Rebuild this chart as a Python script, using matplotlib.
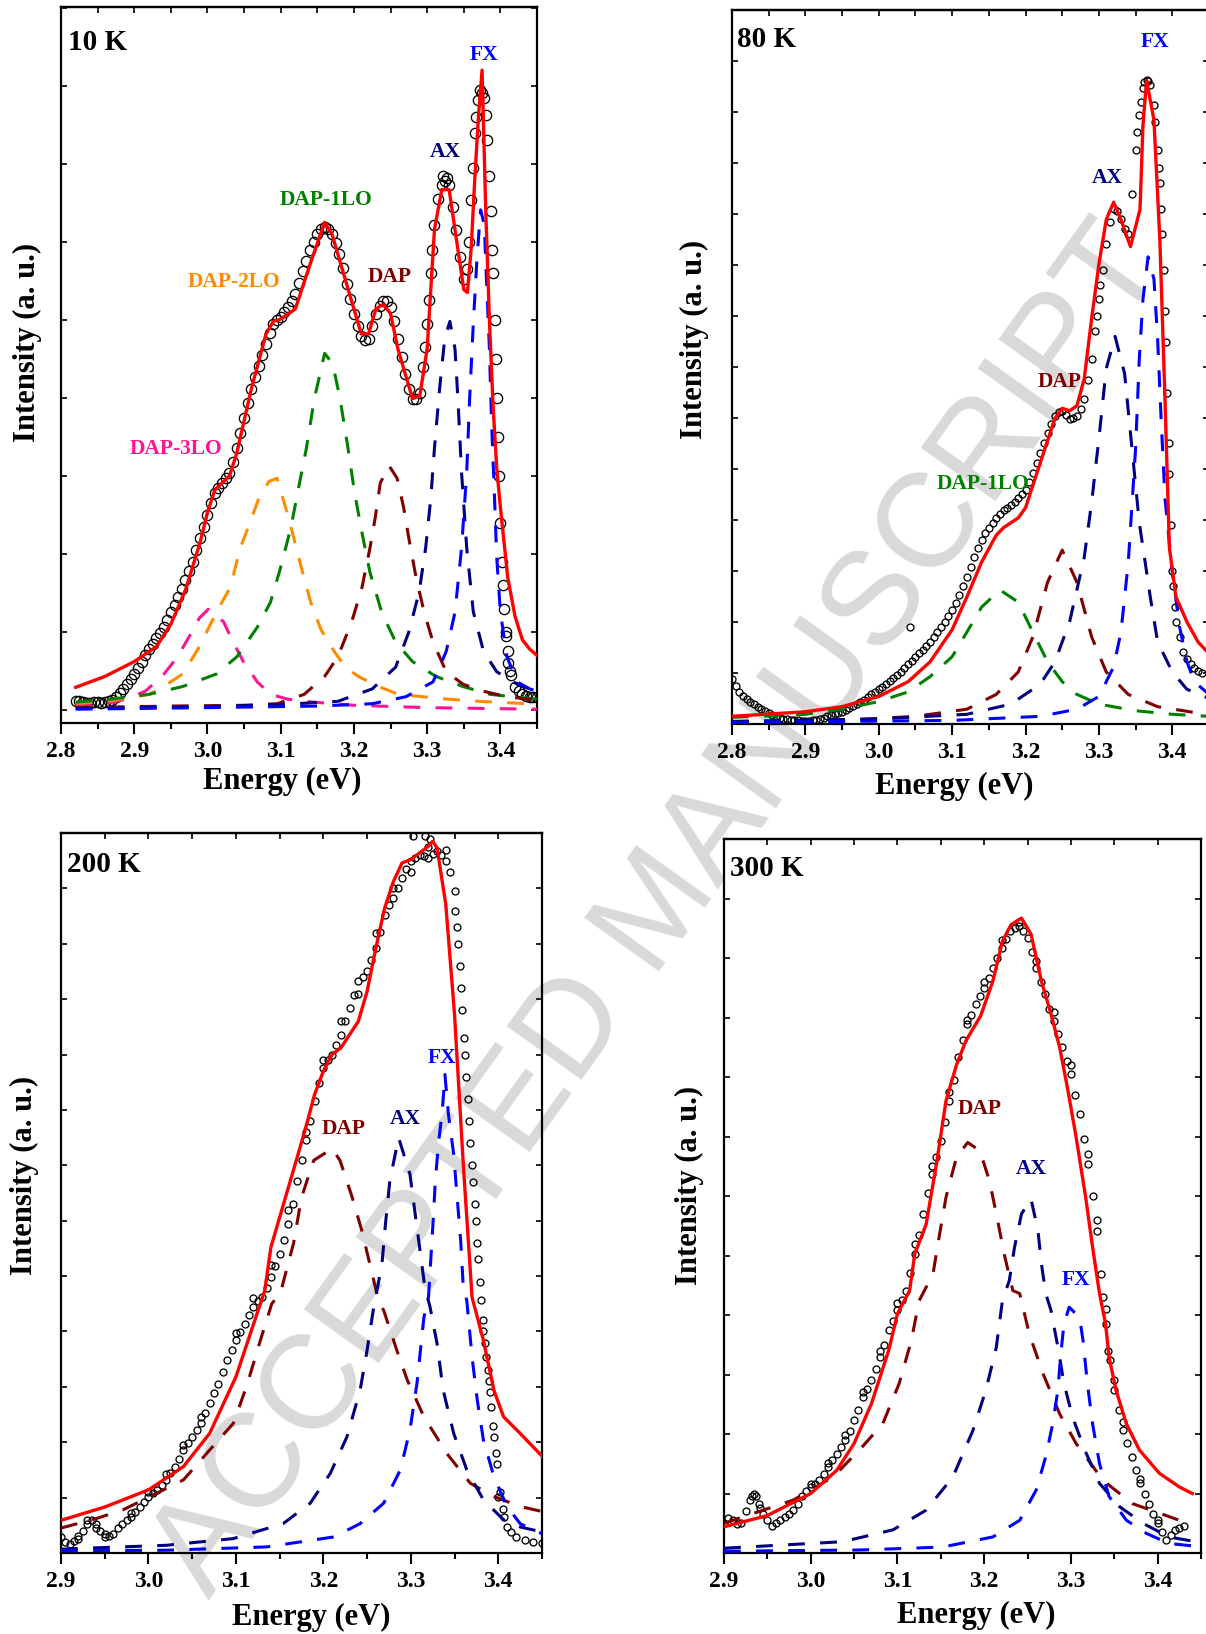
import numpy as np
import matplotlib
matplotlib.use('Agg')
import matplotlib.pyplot as plt
from matplotlib.ticker import MultipleLocator, FormatStrFormatter

plt.rcParams['font.family'] = ['Liberation Serif', 'DejaVu Serif']
plt.rcParams['font.weight'] = 'bold'

PINK = '#FF1493'
ORANGE = '#FF8C00'
GREEN = '#008000'
DRED = '#800000'
NAVY = '#000080'
BLUE = '#0000FF'
RED = '#FF0000'

# ---------------- 10 K ----------------
e10 = [2.820, 2.825, 2.830, 2.835, 2.840, 2.845, 2.850, 2.855, 2.860, 2.865, 2.870, 2.875,
       2.880, 2.885, 2.890, 2.895, 2.900, 2.905, 2.910, 2.915, 2.920, 2.925, 2.930, 2.935,
       2.940, 2.945, 2.950, 2.955, 2.960, 2.965, 2.970, 2.975, 2.980, 2.985, 2.990, 2.995,
       3.000, 3.005, 3.010, 3.015, 3.020, 3.025, 3.030, 3.035, 3.040, 3.045, 3.050, 3.055,
       3.060, 3.065, 3.070, 3.075, 3.080, 3.085, 3.090, 3.095, 3.100, 3.105, 3.110, 3.115,
       3.120, 3.125, 3.130, 3.135, 3.140, 3.145, 3.150, 3.155, 3.160, 3.165, 3.170, 3.175,
       3.180, 3.185, 3.190, 3.195, 3.200, 3.205, 3.210, 3.215, 3.220, 3.225, 3.230, 3.235,
       3.240, 3.245, 3.250, 3.255, 3.260, 3.265, 3.270, 3.275, 3.280, 3.285, 3.290, 3.295,
       3.300, 3.305, 3.310, 3.315, 3.320, 3.325, 3.330, 3.335, 3.340, 3.345, 3.350, 3.355,
       3.360, 3.365, 3.370, 3.375, 3.380, 3.385, 3.390, 3.395, 3.400, 3.405, 3.410, 3.415,
       3.420, 3.425, 3.430, 3.435, 3.440, 3.445, 3.450,
       3.297, 3.302, 3.307, 3.357, 3.362, 3.367, 3.382, 3.387, 3.389, 3.392, 3.394, 3.397,
       3.398, 3.402, 3.403, 3.407, 3.408, 3.411, 3.413, 3.372, 3.377, 3.322, 3.327]
i10 = [0.12, 0.11, 0.10, 0.09, 0.09, 0.10, 0.10, 0.09, 0.10, 0.11, 0.13, 0.17,
       0.22, 0.27, 0.33, 0.40, 0.46, 0.54, 0.62, 0.70, 0.78, 0.85, 0.92, 0.99,
       1.06, 1.15, 1.25, 1.35, 1.45, 1.55, 1.66, 1.78, 1.90, 2.05, 2.20, 2.35,
       2.50, 2.65, 2.78, 2.85, 2.91, 2.97, 3.04, 3.18, 3.36, 3.55, 3.74, 3.93,
       4.12, 4.27, 4.41, 4.55, 4.69, 4.83, 4.95, 5.00, 5.04, 5.10, 5.17, 5.24,
       5.33, 5.47, 5.62, 5.76, 5.90, 6.00, 6.10, 6.16, 6.19, 6.16, 6.10, 5.98,
       5.84, 5.66, 5.46, 5.27, 5.08, 4.92, 4.79, 4.74, 4.76, 4.92, 5.08, 5.18,
       5.24, 5.24, 5.17, 4.98, 4.76, 4.53, 4.31, 4.12, 3.99, 3.98, 4.06, 4.40,
       4.95, 5.60, 6.22, 6.55, 6.73, 6.78, 6.73, 6.45, 6.15, 5.80, 5.52, 5.65,
       6.54, 7.40, 7.82, 7.91, 7.62, 6.85, 5.60, 4.00, 2.40, 1.30, 0.75, 0.45,
       0.30, 0.24, 0.20, 0.18, 0.17, 0.16, 0.16,
       4.65, 5.25, 5.90, 6.00, 6.95, 7.60, 7.30, 6.40, 5.90, 5.00, 4.50, 3.50,
       3.00, 1.90, 1.60, 1.00, 0.95, 0.60, 0.50, 7.95, 7.85, 6.85, 6.82]

e10_fit = [2.82, 2.86, 2.90, 2.93, 2.95, 2.97, 2.99, 3.00, 3.01, 3.02, 3.03, 3.04, 3.06, 3.08,
           3.09, 3.10, 3.12, 3.14, 3.16, 3.17, 3.19, 3.21, 3.22, 3.23, 3.24, 3.25, 3.26, 3.28,
           3.29, 3.30, 3.31, 3.32, 3.33, 3.34, 3.35, 3.355, 3.36, 3.365, 3.37, 3.375, 3.38,
           3.385, 3.39, 3.395, 3.40, 3.41, 3.42, 3.43, 3.44, 3.45]
i10_fit = [0.29, 0.43, 0.62, 0.81, 1.10, 1.54, 2.15, 2.53, 2.82, 2.91, 3.00, 3.29, 4.12, 4.82,
           4.98, 5.01, 5.14, 5.71, 6.25, 6.10, 5.46, 4.82, 4.82, 5.14, 5.20, 5.08, 4.63, 3.99,
           4.03, 4.63, 6.16, 6.67, 6.67, 6.03, 5.39, 5.35, 5.90, 6.80, 7.60, 8.20, 6.40,
           5.00, 3.90, 3.10, 2.60, 1.70, 1.20, 0.90, 0.78, 0.70]

e10_3lo = [2.82, 2.86, 2.89, 2.915, 2.938, 2.959, 2.975, 2.989, 3.001, 3.022, 3.035, 3.049,
           3.068, 3.086, 3.109, 3.132, 3.20, 3.30, 3.45]
i10_3lo = [0.05, 0.08, 0.14, 0.24, 0.43, 0.68, 0.94, 1.18, 1.29, 1.13, 0.87, 0.62,
           0.36, 0.20, 0.14, 0.11, 0.06, 0.03, 0.01]

e10_2lo = [2.82, 2.87, 2.92, 2.94, 2.966, 2.989, 3.012, 3.031, 3.045, 3.058, 3.07, 3.084,
           3.095, 3.109, 3.118, 3.13, 3.141, 3.155, 3.171, 3.188, 3.206, 3.234, 3.261, 3.294,
           3.326, 3.372, 3.437, 3.45]
i10_2lo = [0.08, 0.12, 0.20, 0.30, 0.46, 0.81, 1.25, 1.57, 2.08, 2.40, 2.71, 2.93,
           2.97, 2.52, 2.20, 1.76, 1.38, 1.03, 0.78, 0.55, 0.43, 0.30, 0.20, 0.17,
           0.14, 0.11, 0.08, 0.08]

e10_1lo = [2.82, 2.87, 2.92, 2.966, 3.012, 3.04, 3.068, 3.086, 3.10, 3.114, 3.123, 3.135,
           3.146, 3.16, 3.171, 3.181, 3.192, 3.201, 3.211, 3.222, 3.238, 3.257, 3.28, 3.312,
           3.349, 3.386, 3.437, 3.45]
i10_1lo = [0.10, 0.14, 0.20, 0.30, 0.46, 0.68, 1.06, 1.38, 1.83, 2.34, 2.78, 3.35,
           3.99, 4.57, 4.44, 3.99, 3.35, 2.78, 2.27, 1.76, 1.25, 0.87, 0.62, 0.43,
           0.30, 0.20, 0.15, 0.14]

e10_dap = [2.82, 2.95, 3.05, 3.095, 3.132, 3.16, 3.178, 3.197, 3.211, 3.222, 3.229, 3.236,
           3.248, 3.259, 3.268, 3.275, 3.285, 3.296, 3.308, 3.326, 3.349, 3.377, 3.409, 3.437, 3.45]
i10_dap = [0.03, 0.05, 0.06, 0.08, 0.20, 0.43, 0.68, 1.13, 1.57, 2.08, 2.46, 2.91,
           3.13, 2.97, 2.59, 2.20, 1.69, 1.25, 0.87, 0.49, 0.33, 0.24, 0.17, 0.14, 0.13]

e10_ax = [2.82, 3.00, 3.10, 3.178, 3.225, 3.257, 3.275, 3.289, 3.298, 3.305, 3.31, 3.317,
          3.324, 3.331, 3.338, 3.342, 3.347, 3.354, 3.363, 3.377, 3.395, 3.423, 3.44, 3.45]
i10_ax = [0.02, 0.04, 0.07, 0.11, 0.27, 0.55, 1.00, 1.51, 2.08, 2.72, 3.36, 4.12,
          4.76, 4.98, 4.63, 3.99, 3.04, 2.08, 1.26, 0.75, 0.49, 0.33, 0.27, 0.25]

e10_fx = [2.82, 3.00, 3.15, 3.225, 3.271, 3.308, 3.326, 3.338, 3.347, 3.354, 3.358, 3.363,
          3.368, 3.373, 3.378, 3.381, 3.385, 3.388, 3.392, 3.395, 3.40, 3.409, 3.423, 3.44, 3.45]
i10_fx = [0.01, 0.03, 0.05, 0.08, 0.17, 0.36, 0.75, 1.25, 2.08, 3.04, 3.99, 4.95,
          5.78, 6.41, 6.22, 5.52, 4.63, 3.68, 2.72, 1.96, 1.25, 0.68, 0.36, 0.27, 0.24]

# ---------------- 80 K ----------------
e80 = [2.800, 2.805, 2.810, 2.815, 2.820, 2.825, 2.830, 2.835, 2.840, 2.845, 2.850, 2.855,
       2.860, 2.865, 2.870, 2.875, 2.880, 2.885, 2.890, 2.895, 2.900, 2.905, 2.910, 2.915,
       2.920, 2.925, 2.930, 2.935, 2.940, 2.945, 2.950, 2.955, 2.960, 2.965, 2.970, 2.975,
       2.980, 2.985, 2.990, 2.995, 3.000, 3.005, 3.010, 3.015, 3.020, 3.025, 3.030, 3.035,
       3.040, 3.045, 3.050, 3.055, 3.060, 3.065, 3.070, 3.075, 3.080, 3.085, 3.090, 3.095,
       3.100, 3.105, 3.110, 3.115, 3.120, 3.125, 3.130, 3.135, 3.140, 3.145, 3.150, 3.155,
       3.160, 3.165, 3.170, 3.175, 3.180, 3.185, 3.190, 3.195, 3.200, 3.205, 3.210, 3.215,
       3.220, 3.225, 3.230, 3.235, 3.240, 3.245, 3.250, 3.255, 3.260, 3.265, 3.270, 3.275,
       3.280, 3.285, 3.290, 3.295, 3.300, 3.305, 3.310, 3.315, 3.320, 3.325, 3.330, 3.335,
       3.340, 3.345, 3.350, 3.355, 3.360, 3.365, 3.370, 3.375, 3.380, 3.385, 3.390, 3.395,
       3.400, 3.405, 3.410, 3.415, 3.420, 3.425, 3.430, 3.435, 3.440,
       3.042, 3.383, 3.386, 3.388, 3.391, 3.393, 3.396, 3.398, 3.401, 3.403, 3.297, 3.302,
       3.352, 3.357, 3.377, 3.382, 3.362, 3.367]
i80 = [0.88, 0.75, 0.63, 0.55, 0.49, 0.44, 0.39, 0.34, 0.29, 0.25, 0.22, 0.18,
       0.15, 0.12, 0.10, 0.09, 0.08, 0.07, 0.07, 0.06, 0.06, 0.06, 0.07, 0.08,
       0.10, 0.12, 0.15, 0.17, 0.19, 0.21, 0.24, 0.27, 0.31, 0.35, 0.39, 0.43,
       0.48, 0.53, 0.58, 0.63, 0.68, 0.73, 0.78, 0.84, 0.90, 0.96, 1.02, 1.10,
       1.17, 1.24, 1.32, 1.39, 1.46, 1.53, 1.61, 1.70, 1.80, 1.90, 2.00, 2.12,
       2.24, 2.38, 2.53, 2.70, 2.88, 3.07, 3.27, 3.45, 3.61, 3.74, 3.85, 3.95,
       4.04, 4.12, 4.19, 4.24, 4.29, 4.36, 4.43, 4.50, 4.58, 4.74, 4.92, 5.11,
       5.31, 5.50, 5.70, 5.88, 6.04, 6.12, 6.14, 6.06, 5.99, 6.00, 6.04, 6.18,
       6.38, 6.75, 7.16, 7.70, 8.33, 8.90, 9.41, 9.85, 10.09, 10.05, 9.90, 9.70,
       9.60, 10.40, 11.26, 11.94, 12.48, 12.62, 12.53, 12.13, 11.26, 10.10, 8.10, 5.50,
       3.00, 2.00, 1.70, 1.41, 1.28, 1.17, 1.10, 1.04, 1.00,
       1.90, 10.60, 9.60, 8.90, 7.50, 6.50, 4.90, 3.90, 2.70, 2.30, 8.00, 8.60,
       11.60, 12.20, 11.80, 10.90, 12.58, 12.60]

e80_fit = [2.80, 2.90, 2.95, 3.00, 3.04, 3.07, 3.10, 3.12, 3.14, 3.16, 3.17, 3.19, 3.20, 3.22,
           3.24, 3.25, 3.26, 3.27, 3.28, 3.29, 3.30, 3.31, 3.32, 3.33, 3.343, 3.356, 3.36,
           3.365, 3.375, 3.383, 3.39, 3.396, 3.405, 3.42, 3.435, 3.448]
i80_fit = [0.15, 0.24, 0.34, 0.54, 0.83, 1.22, 1.85, 2.49, 3.17, 3.70, 3.85, 4.04, 4.24, 5.12,
           5.99, 6.19, 6.14, 6.24, 6.77, 7.94, 9.02, 9.89, 10.23, 9.89, 9.36, 10.09, 11.74,
           12.62, 11.84, 9.50, 6.38, 3.46, 2.49, 2.00, 1.61, 1.41]

e80_1lo = [2.80, 2.90, 2.95, 3.00, 3.04, 3.07, 3.10, 3.12, 3.14, 3.165, 3.19, 3.21, 3.23,
           3.25, 3.27, 3.30, 3.35, 3.40, 3.45]
i80_1lo = [0.13, 0.19, 0.29, 0.44, 0.63, 0.93, 1.32, 1.80, 2.29, 2.63, 2.39, 1.80, 1.22,
           0.83, 0.58, 0.39, 0.26, 0.19, 0.15]

e80_dap = [2.80, 2.95, 3.05, 3.12, 3.16, 3.19, 3.21, 3.23, 3.25, 3.27, 3.29, 3.31, 3.34,
           3.38, 3.45]
i80_dap = [0.05, 0.07, 0.15, 0.29, 0.58, 1.02, 1.71, 2.78, 3.41, 2.78, 1.71, 1.02, 0.58,
           0.34, 0.18]

e80_ax = [2.80, 3.00, 3.12, 3.18, 3.22, 3.24, 3.26, 3.28, 3.29, 3.30, 3.31, 3.322, 3.335,
          3.345, 3.355, 3.37, 3.38, 3.40, 3.42, 3.45]
i80_ax = [0.05, 0.10, 0.19, 0.39, 0.78, 1.22, 2.00, 3.27, 4.34, 5.60, 6.97, 7.60, 6.87,
          5.41, 3.95, 2.49, 1.61, 1.02, 0.68, 0.50]

e80_fx = [2.80, 3.10, 3.22, 3.27, 3.30, 3.32, 3.33, 3.34, 3.35, 3.355, 3.36, 3.367, 3.375,
          3.38, 3.385, 3.39, 3.40, 3.41, 3.42, 3.43, 3.45]
i80_fx = [0.03, 0.07, 0.15, 0.29, 0.54, 1.12, 1.80, 3.17, 5.41, 7.16, 8.33, 9.16, 8.72,
          7.55, 5.90, 4.43, 2.97, 1.90, 1.22, 0.83, 0.58]

# ---------------- 200 K ----------------
e200 = [2.90, 2.905, 2.91, 2.915, 2.92, 2.925, 2.93, 2.935, 2.94, 2.945, 2.95, 2.955, 2.96,
        2.965, 2.97, 2.975, 2.98, 2.985, 2.99, 2.995, 3.00, 3.005, 3.01, 3.015, 3.02, 3.025,
        3.03, 3.035, 3.04, 3.045, 3.05, 3.055, 3.06, 3.065, 3.07, 3.075, 3.08, 3.085, 3.09,
        3.095, 3.10, 3.105, 3.11, 3.115, 3.12, 3.125, 3.13, 3.135, 3.14, 3.145, 3.15, 3.155,
        3.16, 3.165, 3.17, 3.175, 3.18, 3.185, 3.19, 3.195, 3.20, 3.205, 3.21, 3.215, 3.22,
        3.225, 3.23, 3.235, 3.24, 3.245, 3.25, 3.255, 3.26, 3.265, 3.27, 3.275, 3.28, 3.285,
        3.29, 3.295, 3.30, 3.305, 3.31, 3.315, 3.32, 3.325, 3.33, 3.335, 3.34, 3.345, 3.35,
        3.353, 3.356, 3.359, 3.362, 3.365, 3.368, 3.371, 3.374, 3.377, 3.38, 3.383, 3.386,
        3.389, 3.392, 3.395, 3.398, 3.40, 3.405, 3.41, 3.415, 3.42, 3.43, 3.44, 3.45,
        3.302, 3.316, 3.322,
        3.351, 3.354, 3.357, 3.361, 3.363, 3.367, 3.370, 3.373, 3.376, 3.379, 3.382, 3.385,
        3.388, 3.391, 3.394, 3.397, 3.402, 3.407,
        3.10, 3.12, 3.14, 3.16, 3.18, 3.20, 3.22, 3.24, 3.26, 3.28, 3.30, 3.32, 3.34, 3.06,
        3.04, 3.02, 3.00, 2.98, 2.95, 2.93, 2.94, 2.92]
i200 = [0.29, 0.20, 0.17, 0.22, 0.26, 0.40, 0.53, 0.60, 0.53, 0.40, 0.29, 0.30, 0.35,
        0.45, 0.53, 0.60, 0.65, 0.74, 0.83, 0.92, 1.02, 1.08, 1.14, 1.22, 1.32, 1.44,
        1.56, 1.70, 1.86, 1.98, 2.10, 2.22, 2.34, 2.52, 2.70, 2.88, 3.06, 3.27, 3.48,
        3.66, 3.84, 3.99, 4.14, 4.29, 4.44, 4.55, 4.62, 4.78, 4.98, 5.18, 5.40, 5.65,
        5.94, 6.30, 6.72, 7.10, 7.45, 7.80, 8.16, 8.48, 8.76, 8.90, 9.00, 9.18, 9.36,
        9.60, 9.84, 10.08, 10.32, 10.40, 10.50, 10.70, 10.92, 11.22, 11.52, 11.70, 11.83, 12.00,
        12.19, 12.35, 12.49, 12.55, 12.60, 12.58, 12.55, 12.62, 12.67, 12.60, 12.49, 12.30, 11.95,
        11.30, 10.60, 9.80, 9.00, 8.20, 7.40, 6.70, 6.00, 5.30, 4.56, 4.00, 3.54,
        3.10, 2.64, 2.10, 1.60, 1.02, 0.80, 0.47, 0.38, 0.29, 0.23, 0.20, 0.18,
        12.94, 12.94, 12.90,
        11.60, 11.00, 10.20, 9.30, 8.60, 7.80, 7.00, 6.30, 5.60, 4.90, 4.20, 3.80,
        3.30, 2.90, 2.30, 1.80, 1.10, 0.65,
        3.98, 4.60, 5.20, 6.20, 7.60, 8.90, 9.60, 10.10, 11.20, 12.00, 12.30, 12.75, 12.70, 2.45,
        1.95, 1.42, 1.10, 0.72, 0.35, 0.60, 0.45, 0.30]

e200_fit = [2.90, 2.95, 3.00, 3.04, 3.07, 3.10, 3.133, 3.14, 3.16, 3.17, 3.18, 3.19, 3.20,
            3.21, 3.22, 3.23, 3.24, 3.25, 3.26, 3.27, 3.28, 3.29, 3.30, 3.32, 3.325, 3.33,
            3.34, 3.35, 3.36, 3.37, 3.377, 3.383, 3.395, 3.406, 3.425, 3.45]
i200_fit = [0.59, 0.83, 1.14, 1.56, 2.16, 3.18, 4.74, 5.52, 6.60, 7.14, 7.69, 8.28, 8.70,
            9.00, 9.12, 9.36, 9.60, 10.14, 10.92, 11.64, 12.12, 12.46, 12.52, 12.76, 12.85, 12.73,
            11.71, 9.72, 7.02, 4.62, 4.20, 3.84, 2.94, 2.46, 2.16, 1.75]

e200_dap = [2.90, 2.94, 2.971, 3.002, 3.04, 3.07, 3.097, 3.112, 3.128, 3.141, 3.151, 3.166,
            3.175, 3.189, 3.21, 3.219, 3.233, 3.244, 3.254, 3.263, 3.269, 3.284, 3.296, 3.315,
            3.341, 3.368, 3.395, 3.425, 3.45]
i200_dap = [0.45, 0.62, 0.78, 1.02, 1.32, 1.86, 2.34, 3.00, 3.84, 4.50, 4.70, 5.60,
            6.42, 7.09, 7.30, 7.09, 6.42, 5.82, 5.16, 4.56, 4.38, 3.66, 3.12, 2.46,
            1.80, 1.26, 1.02, 0.84, 0.75]

e200_ax = [2.90, 3.021, 3.097, 3.154, 3.185, 3.208, 3.227, 3.242, 3.25, 3.257, 3.267, 3.271,
           3.276, 3.286, 3.299, 3.305, 3.311, 3.316, 3.322, 3.33, 3.337, 3.349, 3.364, 3.383,
           3.406, 3.425, 3.45]
i200_ax = [0.07, 0.14, 0.26, 0.53, 0.90, 1.44, 2.10, 2.94, 3.66, 4.38, 5.22, 5.94,
           6.72, 7.50, 6.84, 6.12, 5.40, 4.80, 4.44, 3.78, 2.94, 2.16, 1.50, 0.96,
           0.60, 0.47, 0.38]

e200_fx = [2.90, 3.021, 3.135, 3.212, 3.242, 3.269, 3.288, 3.299, 3.307, 3.315, 3.32, 3.323,
           3.326, 3.328, 3.332, 3.336, 3.339, 3.343, 3.349, 3.353, 3.357, 3.36, 3.364, 3.37,
           3.376, 3.383, 3.395, 3.41, 3.425, 3.45]
i200_fx = [0.04, 0.05, 0.11, 0.29, 0.53, 0.90, 1.50, 2.22, 3.06, 4.26, 4.56, 5.34,
           6.12, 6.72, 7.45, 7.98, 8.64, 7.92, 7.20, 6.42, 5.64, 4.80, 4.56, 3.54,
           2.76, 2.04, 1.38, 0.84, 0.53, 0.35]

# ---------------- 300 K ----------------
e300 = [2.90, 2.905, 2.91, 2.915, 2.92, 2.925, 2.93, 2.935, 2.94, 2.945, 2.95, 2.955, 2.96,
        2.965, 2.97, 2.975, 2.98, 2.985, 2.99, 2.995, 3.00, 3.005, 3.01, 3.015, 3.02, 3.025,
        3.03, 3.035, 3.04, 3.045, 3.05, 3.055, 3.06, 3.065, 3.07, 3.075, 3.08, 3.085, 3.09,
        3.095, 3.10, 3.105, 3.11, 3.115, 3.12, 3.125, 3.13, 3.135, 3.14, 3.145, 3.15, 3.155,
        3.16, 3.165, 3.17, 3.175, 3.18, 3.185, 3.19, 3.195, 3.20, 3.205, 3.21, 3.215, 3.22,
        3.225, 3.23, 3.235, 3.24, 3.245, 3.25, 3.255, 3.26, 3.265, 3.27, 3.275, 3.28, 3.285,
        3.29, 3.295, 3.30, 3.305, 3.31, 3.315, 3.32, 3.325, 3.33, 3.335, 3.34, 3.345, 3.35,
        3.355, 3.36, 3.365, 3.37, 3.375, 3.38, 3.385, 3.39, 3.395, 3.40, 3.405, 3.41, 3.415,
        3.42, 3.425, 3.43,
        3.00, 3.02, 3.04, 3.06, 3.08, 3.10, 3.12, 3.14, 3.16, 3.18, 3.20, 3.22, 3.24, 3.26,
        3.28, 3.30, 3.32, 3.33, 3.34, 3.35, 3.36, 3.38, 3.40, 2.932, 2.937, 2.942, 3.337, 3.343]
i300 = [0.50, 0.58, 0.55, 0.48, 0.50, 0.70, 0.89, 1.00, 0.83, 0.65, 0.55, 0.45, 0.50,
        0.56, 0.61, 0.66, 0.72, 0.82, 0.95, 1.05, 1.11, 1.16, 1.22, 1.33, 1.45, 1.56,
        1.67, 1.78, 1.90, 2.05, 2.23, 2.40, 2.62, 2.75, 2.90, 3.10, 3.29, 3.50, 3.74,
        3.90, 4.08, 4.25, 4.41, 4.70, 5.03, 5.35, 5.70, 6.05, 6.37, 6.65, 6.93, 7.25,
        7.60, 7.95, 8.33, 8.62, 8.89, 9.05, 9.22, 9.36, 9.50, 9.67, 9.84, 10.00, 10.17,
        10.32, 10.45, 10.50, 10.54, 10.45, 10.34, 10.10, 9.84, 9.60, 9.39, 9.15, 8.94, 8.72,
        8.50, 8.27, 8.05, 7.70, 7.38, 6.95, 6.54, 6.00, 5.42, 4.69, 3.85, 3.25, 2.74,
        2.40, 2.06, 1.85, 1.62, 1.40, 1.17, 1.00, 0.83, 0.66, 0.50, 0.35, 0.22, 0.30,
        0.39, 0.42, 0.45,
        1.16, 1.52, 1.98, 2.70, 3.40, 4.20, 5.20, 6.50, 7.75, 8.95, 9.60, 10.30, 10.60, 9.95,
        9.10, 8.20, 6.70, 5.60, 4.10, 2.90, 2.20, 1.25, 0.55, 0.95, 0.95, 0.75, 4.30, 3.40]

e300_fit = [2.90, 2.95, 3.00, 3.03, 3.05, 3.07, 3.09, 3.10, 3.114, 3.12, 3.133, 3.145,
            3.156, 3.168, 3.179, 3.196, 3.21, 3.221, 3.231, 3.243, 3.254, 3.266, 3.277,
            3.287, 3.296, 3.306, 3.317, 3.325, 3.333, 3.34, 3.344, 3.352, 3.364, 3.379,
            3.402, 3.425, 3.44]
i300_fit = [0.44, 0.63, 1.00, 1.39, 1.84, 2.51, 3.41, 4.02, 4.41, 5.03, 5.52, 6.54,
            7.60, 8.20, 8.61, 9.03, 9.61, 10.28, 10.56, 10.67, 10.40, 9.61, 9.06,
            8.50, 7.82, 6.99, 5.98, 5.14, 4.36, 3.85, 3.29, 2.74, 2.17, 1.73,
            1.34, 1.11, 1.00]

e300_dap = [2.90, 2.98, 3.026, 3.056, 3.083, 3.102, 3.116, 3.125, 3.141, 3.148, 3.156, 3.168,
            3.181, 3.195, 3.206, 3.214, 3.223, 3.233, 3.241, 3.252, 3.268, 3.287, 3.306, 3.337,
            3.371, 3.402, 3.425, 3.44]
i300_dap = [0.50, 0.89, 1.28, 1.73, 2.17, 2.85, 3.57, 4.24, 4.69, 5.31, 5.98, 6.65,
            6.90, 6.76, 6.26, 5.70, 5.03, 4.41, 4.36, 3.68, 3.01, 2.34, 1.84, 1.22,
            0.83, 0.67, 0.55, 0.50]

e300_ax = [2.90, 3.037, 3.095, 3.133, 3.164, 3.187, 3.202, 3.214, 3.221, 3.229, 3.235, 3.243,
           3.254, 3.262, 3.266, 3.271, 3.277, 3.285, 3.292, 3.302, 3.316, 3.333, 3.356, 3.383,
           3.413, 3.44]
i300_ax = [0.08, 0.19, 0.39, 0.72, 1.28, 2.06, 2.74, 3.46, 4.24, 4.58, 5.14, 5.70,
           5.95, 5.42, 4.86, 4.36, 4.08, 3.46, 2.85, 2.28, 1.73, 1.17, 0.78, 0.50,
           0.27, 0.20]

e300_fx = [2.90, 3.056, 3.152, 3.21, 3.241, 3.26, 3.271, 3.279, 3.285, 3.288, 3.292, 3.298,
           3.31, 3.314, 3.319, 3.325, 3.333, 3.344, 3.364, 3.387, 3.413, 3.44]
i300_fx = [0.03, 0.05, 0.10, 0.27, 0.55, 1.06, 1.62, 2.17, 2.74, 3.29, 3.85, 4.13,
           3.96, 3.57, 2.85, 2.17, 1.50, 0.95, 0.55, 0.33, 0.16, 0.12]


def setup(ax, xlim, ylim, xlab_pos, ylab_pos):
    ax.set_facecolor('none')
    ax.set_xlim(*xlim)
    ax.set_ylim(*ylim)
    ax.xaxis.set_major_locator(MultipleLocator(0.1))
    ax.xaxis.set_minor_locator(MultipleLocator(0.05))
    ax.xaxis.set_major_formatter(FormatStrFormatter('%.1f'))
    ax.yaxis.set_major_locator(MultipleLocator(1))
    ax.tick_params(axis='x', which='major', direction='out', length=8, width=1.5,
                   labelsize=17, pad=5, top=False)
    ax.tick_params(axis='x', which='minor', direction='out', length=4.5, width=1.5, top=False)
    ax.tick_params(axis='y', which='major', direction='in', length=4, width=1.2,
                   left=True, right=True, labelleft=False)
    top = ax.secondary_xaxis('top')
    top.xaxis.set_major_locator(MultipleLocator(0.05))
    top.tick_params(direction='in', length=4, width=1.2, labeltop=False)
    top.spines['top'].set_linewidth(1.6)
    for sp in ax.spines.values():
        sp.set_linewidth(1.6)
    ax.set_xlabel('Energy (eV)', fontsize=22, fontweight='bold')
    ax.set_ylabel('Intensity (a. u.)', fontsize=22, fontweight='bold')
    ax.xaxis.set_label_coords(*xlab_pos)
    ax.yaxis.set_label_coords(*ylab_pos)
    ax.xaxis.label.set_verticalalignment('center')
    ax.yaxis.label.set_verticalalignment('center')


def comp(ax, e, i, color):
    ax.plot(e, i, color=color, lw=2.2, ls=(0, (5.5, 5.0)), zorder=3)


def tag(ax, x, y, s, color, size=15.5):
    ax.text(x, y, s, color=color, fontsize=size, fontweight='bold', ha='center', va='center',
            zorder=5)


fig = plt.figure(figsize=(12.06, 16.34), dpi=100)
W, H = 1206.0, 1634.0


def add_axes(left, right, top, bottom):
    return fig.add_axes([left / W, 1 - bottom / H, (right - left) / W, (bottom - top) / H])


# watermark
fig.text(660 / W, 1 - 912 / H, 'ACCEPTED MANUSCRIPT', fontsize=96, color='#d9d9d9',
         family=['Liberation Sans', 'DejaVu Sans'], fontweight='normal',
         rotation=54.4, rotation_mode='anchor', ha='center', va='center', zorder=-5)

# 10 K
ax1 = add_axes(61, 537, 7, 723)
setup(ax1, (2.8, 3.45), (-0.167, 9.01), (0.464, -0.082), (-0.071, 0.531))
ax1.plot(e10, i10, 'o', ms=7.4, mfc='none', mec='black', mew=0.95, zorder=2)
comp(ax1, e10_3lo, i10_3lo, PINK)
comp(ax1, e10_2lo, i10_2lo, ORANGE)
comp(ax1, e10_1lo, i10_1lo, GREEN)
comp(ax1, e10_dap, i10_dap, DRED)
comp(ax1, e10_ax, i10_ax, NAVY)
comp(ax1, e10_fx, i10_fx, BLUE)
ax1.plot(e10_fit, i10_fit, color=RED, lw=2.4, zorder=4)
ax1.text(0.015, 0.951, '10 K', transform=ax1.transAxes, fontsize=21, fontweight='bold',
         ha='left', va='center')
tag(ax1, 3.378, 8.4, 'FX', BLUE)
tag(ax1, 3.325, 7.15, 'AX', NAVY)
tag(ax1, 3.162, 6.53, 'DAP-1LO', GREEN)
tag(ax1, 3.036, 5.49, 'DAP-2LO', ORANGE)
tag(ax1, 3.249, 5.55, 'DAP', DRED)
tag(ax1, 2.957, 3.35, 'DAP-3LO', PINK)

# 80 K
ax2 = add_axes(732, 1209, 10, 724)
setup(ax2, (2.8, 3.45), (0, 14.0), (0.465, -0.087), (-0.078, 0.538))
ax2.plot(e80, i80, 'o', ms=5.0, mfc='none', mec='black', mew=0.95, zorder=2)
comp(ax2, e80_1lo, i80_1lo, GREEN)
comp(ax2, e80_dap, i80_dap, DRED)
comp(ax2, e80_ax, i80_ax, NAVY)
comp(ax2, e80_fx, i80_fx, BLUE)
ax2.plot(e80_fit, i80_fit, color=RED, lw=2.4, zorder=4)
ax2.text(0.0105, 0.958, '80 K', transform=ax2.transAxes, fontsize=21, fontweight='bold',
         ha='left', va='center')
tag(ax2, 3.376, 13.37, 'FX', BLUE)
tag(ax2, 3.312, 10.7, 'AX', NAVY)
tag(ax2, 3.247, 6.7, 'DAP', DRED)
tag(ax2, 3.142, 4.7, 'DAP-1LO', GREEN)

# 200 K
ax3 = add_axes(61, 542, 833, 1553)
setup(ax3, (2.9, 3.45), (0, 13.0), (0.52, -0.089), (-0.075, 0.525))
ax3.plot(e200, i200, 'o', ms=5.0, mfc='none', mec='black', mew=0.95, zorder=2)
comp(ax3, e200_dap, i200_dap, DRED)
comp(ax3, e200_ax, i200_ax, NAVY)
comp(ax3, e200_fx, i200_fx, BLUE)
ax3.plot(e200_fit, i200_fit, color=RED, lw=2.4, zorder=4)
ax3.text(0.0125, 0.956, '200 K', transform=ax3.transAxes, fontsize=21, fontweight='bold',
         ha='left', va='center')
tag(ax3, 3.223, 7.66, 'DAP', DRED)
tag(ax3, 3.294, 7.84, 'AX', NAVY)
tag(ax3, 3.336, 8.94, 'FX', BLUE)

# 300 K
ax4 = add_axes(724, 1201, 839, 1553)
setup(ax4, (2.9, 3.45), (0, 12.0), (0.528, -0.087), (-0.073, 0.515))
ax4.plot(e300, i300, 'o', ms=5.0, mfc='none', mec='black', mew=0.95, zorder=2)
comp(ax4, e300_dap, i300_dap, DRED)
comp(ax4, e300_ax, i300_ax, NAVY)
comp(ax4, e300_fx, i300_fx, BLUE)
ax4.plot(e300_fit, i300_fit, color=RED, lw=2.4, zorder=4)
ax4.text(0.0126, 0.959, '300 K', transform=ax4.transAxes, fontsize=21, fontweight='bold',
         ha='left', va='center')
tag(ax4, 3.195, 7.47, 'DAP', DRED)
tag(ax4, 3.254, 6.46, 'AX', NAVY)
tag(ax4, 3.306, 4.58, 'FX', BLUE)

fig.savefig('out.png', dpi=100)
